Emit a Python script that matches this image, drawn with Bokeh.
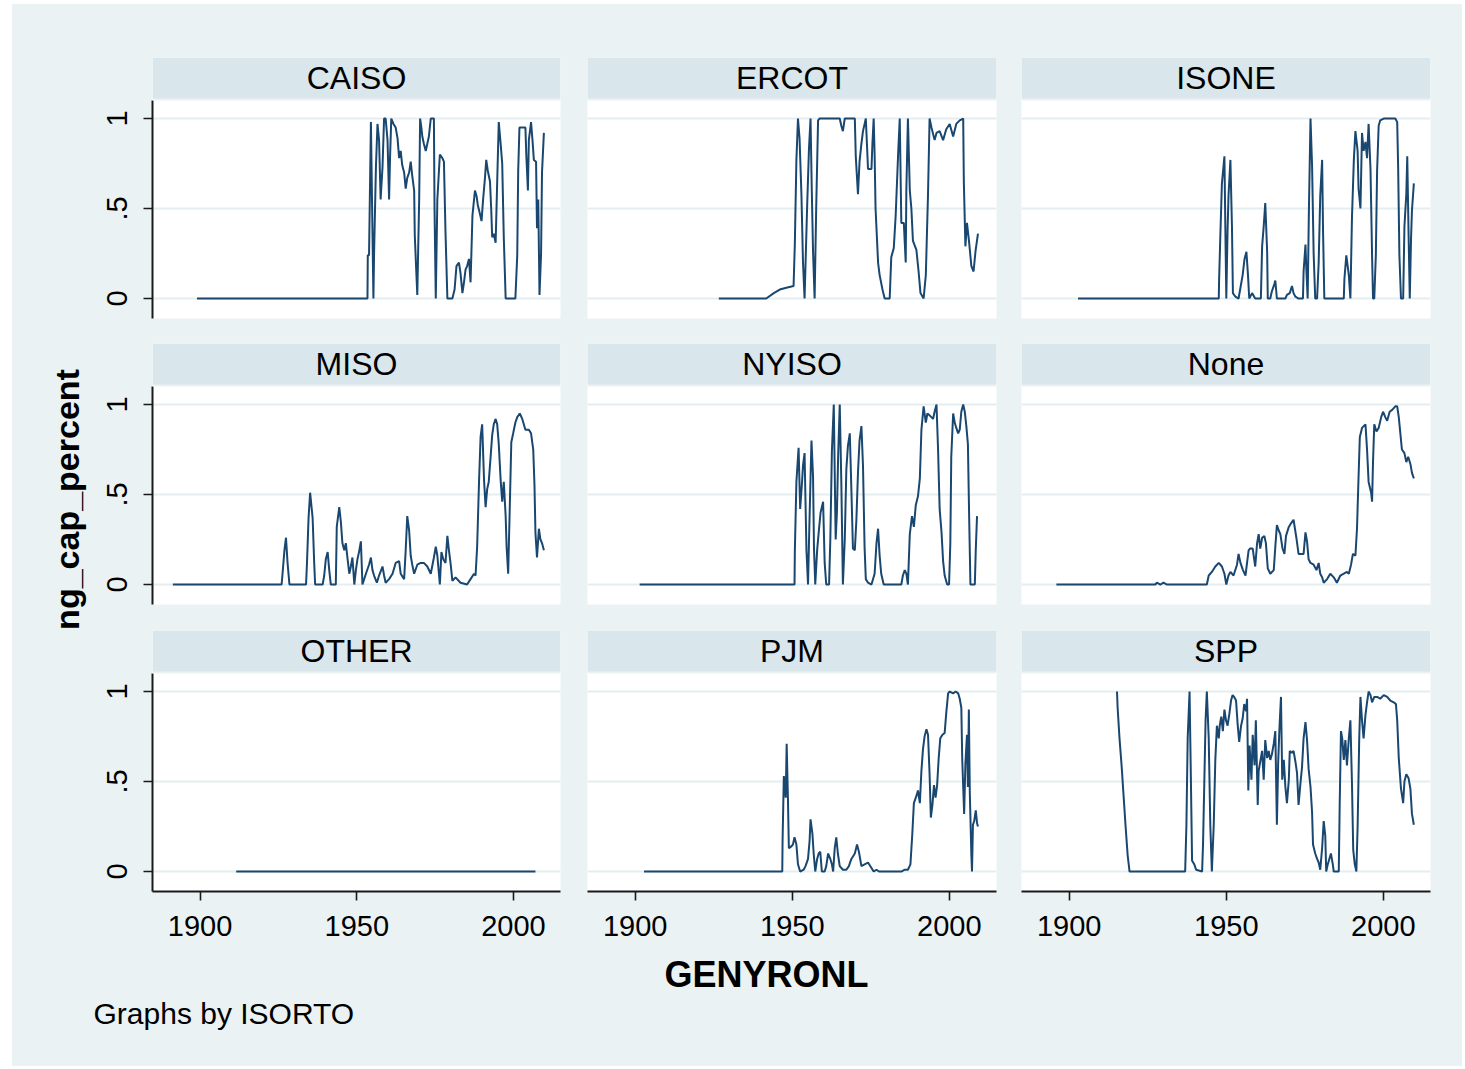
import math
from bokeh.plotting import figure
from bokeh.models import Range1d, FixedTicker, BoxAnnotation, Label, ColumnDataSource, Spacer
from bokeh.layouts import row, column
from bokeh.embed import file_html
from bokeh.resources import INLINE

# ---------------- data (GENYRONL, ng_cap_percent) ----------------
CAISO = [(1899.0, 0), (1953.4, 0), (1953.5, 0.24), (1953.9, 0.24), (1954.5, 0.98), (1954.7, 0.73), (1955.3, 0),
         (1955.5, 0.24), (1956.1, 0.73), (1956.6, 0.97), (1957.1, 0.88), (1957.6, 0.55), (1958.2, 0.73), (1958.7, 1.0),
         (1959.2, 1.0), (1959.8, 0.88), (1960.3, 0.55), (1960.6, 0.78), (1961.0, 1.0), (1961.7, 0.97), (1962.4, 0.95),
         (1963.0, 0.89), (1963.5, 0.78), (1964.0, 0.82), (1964.5, 0.74), (1965.1, 0.7), (1965.6, 0.61), (1966.1, 0.67),
         (1966.7, 0.7), (1967.2, 0.76), (1967.7, 0.68), (1968.3, 0.6), (1968.5, 0.35), (1969.0, 0.14), (1969.3, 0.02),
         (1969.9, 0.55), (1970.2, 1.0), (1970.6, 0.95), (1970.9, 0.9), (1971.4, 0.86), (1972.0, 0.82), (1972.5, 0.86),
         (1973.0, 0.9), (1973.6, 1.0), (1974.6, 1.0), (1974.8, 0.5), (1975.2, 0), (1975.7, 0.55), (1976.5, 0.8),
         (1977.3, 0.78), (1977.8, 0.76), (1978.3, 0.37), (1978.9, 0), (1980.5, 0), (1981.2, 0.05), (1981.8, 0.18),
         (1982.6, 0.2), (1983.1, 0.14), (1983.7, 0.03), (1984.2, 0.09), (1984.7, 0.16), (1985.2, 0.18), (1985.8, 0.22),
         (1986.3, 0.09), (1986.9, 0.46), (1987.7, 0.6), (1988.2, 0.57), (1988.6, 0.52), (1989.3, 0.47), (1989.8, 0.43),
         (1990.3, 0.55), (1990.9, 0.67), (1991.3, 0.77), (1991.8, 0.71), (1992.5, 0.65), (1992.9, 0.49), (1993.2, 0.34),
         (1993.7, 0.36), (1994.3, 0.31), (1994.8, 0.65), (1995.3, 0.98), (1995.9, 0.86), (1996.4, 0.75), (1996.9, 0.34),
         (1997.5, 0), (2000.6, 0), (2001.2, 0.24), (2001.5, 0.71), (2001.9, 0.95), (2003.8, 0.95), (2004.1, 0.79),
         (2004.6, 0.6), (2004.9, 0.88), (2005.6, 0.98), (2006.1, 0.87), (2006.5, 0.77), (2007.2, 0.76), (2007.5, 0.39),
         (2007.9, 0.55), (2008.3, 0.02), (2008.8, 0.25), (2009.1, 0.7), (2009.7, 0.92)]

ERCOT = [(1926.6, 0), (1941.7, 0), (1944.1, 0.03), (1946.0, 0.05), (1948.1, 0.06), (1950.4, 0.07), (1950.8, 0.3),
         (1951.3, 0.77), (1951.8, 1.0), (1952.3, 0.89), (1952.9, 0.58), (1953.4, 0.2), (1953.9, 0.0), (1954.7, 0.5),
         (1955.3, 0.83), (1955.8, 1.0), (1956.2, 0.6), (1956.6, 0.26), (1957.1, 0.0), (1957.6, 0.5), (1958.2, 0.99),
         (1958.7, 1.0), (1965.1, 1.0), (1965.6, 0.96), (1966.1, 0.93), (1966.7, 1.0), (1969.9, 1.0), (1970.2, 0.79),
         (1970.9, 0.58), (1971.4, 0.76), (1972.0, 0.86), (1972.5, 0.93), (1973.4, 1.0), (1973.8, 0.84), (1974.1, 0.72),
         (1975.2, 0.72), (1975.5, 0.86), (1975.9, 1.0), (1976.2, 0.8), (1976.5, 0.5), (1977.3, 0.2), (1977.8, 0.13),
         (1978.7, 0.05), (1979.4, 0.0), (1981.0, 0.0), (1981.5, 0.23), (1982.3, 0.28), (1982.9, 0.46), (1983.7, 0.81),
         (1984.2, 1.0), (1984.7, 0.42), (1985.5, 0.42), (1986.1, 0.2), (1986.3, 0.6), (1986.8, 1.0), (1987.4, 0.6),
         (1987.9, 0.5), (1988.4, 0.32), (1989.5, 0.27), (1990.2, 0.15), (1990.8, 0.03), (1991.8, 0.0), (1992.5, 0.13),
         (1993.2, 0.58), (1993.7, 1.0), (1994.3, 0.95), (1995.3, 0.88), (1995.9, 0.92), (1996.9, 0.93), (1998.0, 0.88),
         (1999.0, 0.94), (2000.1, 0.97), (2001.2, 0.9), (2002.2, 0.97), (2003.3, 0.99), (2004.4, 1.0), (2004.6, 0.65),
         (2005.1, 0.29), (2005.6, 0.42), (2006.3, 0.31), (2007.0, 0.18), (2007.7, 0.15), (2008.3, 0.26), (2009.1, 0.36)]

ISONE = [(1902.8, 0), (1947.6, 0), (1947.7, 0.1), (1948.1, 0.35), (1948.6, 0.64), (1949.4, 0.79), (1949.7, 0.38),
         (1950.0, 0.0), (1950.4, 0.38), (1950.7, 0.57), (1951.3, 0.77), (1951.8, 0.4), (1952.1, 0.03), (1952.9, 0.01),
         (1953.9, 0.0), (1954.5, 0.06), (1955.2, 0.13), (1955.8, 0.22), (1956.4, 0.26), (1956.9, 0.13), (1957.3, 0.0),
         (1958.2, 0.03), (1959.2, 0.0), (1961.0, 0.0), (1961.4, 0.29), (1961.9, 0.4), (1962.4, 0.53), (1963.0, 0.26),
         (1963.2, 0.0), (1964.0, 0.0), (1964.5, 0.04), (1965.3, 0.08), (1965.6, 0.1), (1966.1, 0.0), (1968.8, 0.0),
         (1969.3, 0.02), (1970.2, 0.03), (1970.9, 0.07), (1971.4, 0.03), (1972.0, 0.01), (1973.0, 0.0), (1974.4, 0.0),
         (1974.6, 0.15), (1975.2, 0.3), (1975.5, 0.15), (1975.9, 0.0), (1976.3, 0.5), (1976.8, 1.0), (1977.3, 0.74),
         (1977.8, 0.25), (1978.3, 0.0), (1978.9, 0.0), (1979.4, 0.2), (1979.9, 0.57), (1980.5, 0.77), (1980.8, 0.37),
         (1981.2, 0.0), (1987.4, 0.0), (1987.6, 0.11), (1988.2, 0.24), (1989.0, 0.13), (1989.5, 0.0), (1990.0, 0.45),
         (1990.6, 0.77), (1991.1, 0.93), (1991.8, 0.82), (1992.1, 0.61), (1992.7, 0.5), (1993.2, 0.92), (1993.7, 0.82),
         (1994.3, 0.87), (1994.8, 0.78), (1995.3, 0.97), (1995.9, 0.72), (1996.4, 0.24), (1996.7, 0.0), (1997.1, 0.0),
         (1997.6, 0.24), (1998.0, 0.71), (1998.5, 0.96), (1999.0, 0.99), (2000.1, 1.0), (2003.8, 1.0), (2004.4, 0.98),
         (2004.7, 0.73), (2005.1, 0.24), (2005.6, 0.0), (2006.3, 0.0), (2006.7, 0.4), (2007.3, 0.58), (2007.6, 0.79),
         (2008.0, 0.38), (2008.4, 0.0), (2008.8, 0.33), (2009.1, 0.49), (2009.7, 0.64)]

MISO = [(1891.3, 0), (1926.0, 0), (1926.3, 0.06), (1926.9, 0.19), (1927.4, 0.26), (1927.9, 0.12), (1928.5, 0.0),
        (1933.8, 0.0), (1934.1, 0.12), (1934.6, 0.37), (1935.1, 0.51), (1935.9, 0.37), (1936.4, 0.12), (1936.7, 0.0),
        (1939.1, 0.0), (1939.6, 0.05), (1940.1, 0.14), (1940.7, 0.18), (1941.2, 0.08), (1941.7, 0.0), (1943.3, 0.0),
        (1943.6, 0.32), (1944.4, 0.43), (1944.9, 0.35), (1945.4, 0.23), (1946.0, 0.19), (1946.5, 0.23), (1947.0, 0.15),
        (1947.6, 0.06), (1948.1, 0.1), (1948.6, 0.15), (1949.2, 0.0), (1949.7, 0.08), (1950.2, 0.14), (1950.7, 0.18),
        (1951.3, 0.24), (1951.8, 0.0), (1952.9, 0.06), (1953.9, 0.11), (1954.5, 0.15), (1955.0, 0.08), (1955.5, 0.05),
        (1956.4, 0.01), (1957.1, 0.05), (1958.2, 0.1), (1958.7, 0.05), (1959.2, 0.01), (1960.3, 0.03), (1961.4, 0.06),
        (1962.4, 0.12), (1963.5, 0.13), (1964.0, 0.06), (1965.1, 0.03), (1965.6, 0.19), (1966.1, 0.38), (1966.7, 0.3),
        (1967.2, 0.16), (1967.7, 0.11), (1968.3, 0.06), (1969.3, 0.11), (1970.4, 0.12), (1971.4, 0.12), (1972.5, 0.1),
        (1973.6, 0.06), (1974.6, 0.15), (1975.2, 0.21), (1975.7, 0.16), (1976.5, 0.0), (1977.0, 0.18), (1977.6, 0.14),
        (1978.3, 0.12), (1978.9, 0.27), (1979.4, 0.19), (1979.9, 0.12), (1980.5, 0.02), (1981.5, 0.04), (1983.1, 0.01),
        (1985.2, 0.0), (1986.3, 0.03), (1987.4, 0.06), (1987.9, 0.05), (1988.4, 0.21), (1989.0, 0.57), (1989.5, 0.82),
        (1990.0, 0.89), (1990.6, 0.58), (1991.1, 0.43), (1991.6, 0.53), (1992.1, 0.57), (1992.7, 0.71), (1993.2, 0.83),
        (1993.7, 0.89), (1994.3, 0.92), (1994.8, 0.89), (1995.3, 0.78), (1995.9, 0.58), (1996.4, 0.46), (1996.9, 0.57),
        (1997.5, 0.38), (1997.8, 0.21), (1998.3, 0.06), (1998.8, 0.42), (1999.3, 0.79), (1999.9, 0.84), (2000.6, 0.9),
        (2001.2, 0.93), (2002.0, 0.95), (2002.8, 0.92), (2003.8, 0.86), (2004.9, 0.86), (2005.6, 0.84), (2006.3, 0.75),
        (2006.7, 0.55), (2007.0, 0.29), (2007.5, 0.15), (2008.1, 0.31), (2008.6, 0.25), (2009.1, 0.23), (2009.7, 0.19)]

NYISO = [(1901.4, 0), (1950.7, 0), (1950.8, 0.18), (1951.3, 0.57), (1952.0, 0.76), (1952.5, 0.42), (1953.1, 0.57),
         (1953.4, 0.66), (1953.9, 0.73), (1954.5, 0.19), (1955.0, 0.0), (1955.5, 0.38), (1956.1, 0.8), (1956.6, 0.6),
         (1956.9, 0.2), (1957.3, 0.0), (1957.9, 0.19), (1958.4, 0.29), (1959.0, 0.4), (1959.8, 0.46), (1960.3, 0.12),
         (1960.8, 0.0), (1961.7, 0.0), (1962.1, 0.25), (1962.6, 0.74), (1963.2, 1.0), (1963.8, 0.25), (1964.2, 0.4),
         (1964.6, 0.72), (1965.1, 1.0), (1965.6, 0.57), (1966.1, 0.0), (1966.7, 0.25), (1967.2, 0.64), (1967.7, 0.77),
         (1968.3, 0.84), (1968.8, 0.53), (1969.3, 0.2), (1969.9, 0.19), (1970.4, 0.36), (1970.9, 0.62), (1971.4, 0.8),
         (1972.0, 0.88), (1972.5, 0.66), (1973.0, 0.21), (1973.4, 0.03), (1974.1, 0.01), (1975.2, 0.0), (1976.2, 0.06),
         (1976.8, 0.23), (1977.3, 0.31), (1977.8, 0.16), (1978.3, 0.06), (1979.1, 0.0), (1984.7, 0.0), (1985.2, 0.05),
         (1985.8, 0.08), (1986.3, 0.06), (1986.8, 0.0), (1987.4, 0.28), (1988.1, 0.38), (1988.7, 0.32), (1989.3, 0.44),
         (1990.0, 0.49), (1990.6, 0.59), (1991.1, 0.86), (1991.8, 0.99), (1992.5, 0.9), (1993.0, 0.95), (1993.7, 0.94),
         (1994.8, 0.92), (1995.3, 0.96), (1995.9, 1.0), (1996.4, 0.75), (1996.9, 0.42), (1997.5, 0.29), (1998.0, 0.13),
         (1998.5, 0.05), (1999.3, 0.0), (1999.9, 0.0), (2000.3, 0.23), (2000.6, 0.71), (2001.2, 0.95), (2001.7, 0.9),
         (2002.2, 0.87), (2002.8, 0.84), (2003.3, 0.86), (2003.8, 0.96), (2004.4, 1.0), (2004.9, 0.96), (2005.4, 0.88),
         (2005.9, 0.78), (2006.3, 0.37), (2006.7, 0.0), (2008.1, 0.0), (2008.4, 0.19), (2008.8, 0.38)]

NONE = [(1895.9, 0), (1927.4, 0), (1927.9, 0.01), (1929.0, 0.0), (1930.0, 0.01), (1931.1, 0.0), (1943.8, 0.0),
        (1944.4, 0.05), (1945.4, 0.07), (1946.5, 0.1), (1947.6, 0.12), (1948.6, 0.1), (1949.4, 0.06), (1950.0, 0.0),
        (1950.7, 0.05), (1951.3, 0.07), (1952.3, 0.05), (1953.4, 0.11), (1953.9, 0.17), (1954.5, 0.12), (1955.3, 0.08),
        (1956.1, 0.05), (1956.6, 0.12), (1957.1, 0.19), (1957.6, 0.2), (1958.4, 0.2), (1959.2, 0.1), (1959.8, 0.23),
        (1960.3, 0.28), (1960.8, 0.2), (1961.4, 0.26), (1962.1, 0.27), (1962.6, 0.23), (1963.2, 0.09), (1964.0, 0.06),
        (1965.1, 0.08), (1965.6, 0.21), (1966.1, 0.33), (1966.7, 0.3), (1967.2, 0.28), (1967.9, 0.2), (1968.5, 0.17),
        (1969.0, 0.27), (1969.9, 0.32), (1970.6, 0.34), (1971.4, 0.36), (1972.3, 0.26), (1973.0, 0.17), (1974.6, 0.17),
        (1975.2, 0.29), (1975.7, 0.24), (1976.2, 0.14), (1976.8, 0.12), (1977.8, 0.11), (1978.7, 0.08), (1979.4, 0.12),
        (1979.9, 0.06), (1980.5, 0.04), (1981.0, 0.01), (1982.1, 0.03), (1983.1, 0.06), (1984.2, 0.04), (1985.2, 0.01),
        (1986.3, 0.05), (1987.4, 0.06), (1988.4, 0.07), (1989.0, 0.06), (1989.7, 0.11), (1990.3, 0.17), (1991.1, 0.16),
        (1991.6, 0.31), (1992.1, 0.6), (1992.5, 0.82), (1993.2, 0.87), (1994.3, 0.89), (1994.8, 0.75), (1995.3, 0.57),
        (1996.1, 0.51), (1996.4, 0.46), (1996.7, 0.68), (1997.1, 0.89), (1997.8, 0.85), (1998.5, 0.87), (1999.3, 0.93),
        (1999.9, 0.96), (2000.6, 0.93), (2001.2, 0.91), (2002.0, 0.96), (2002.8, 0.97), (2003.8, 0.99), (2004.4, 0.99),
        (2004.9, 0.93), (2005.4, 0.84), (2005.9, 0.75), (2006.7, 0.73), (2007.3, 0.68), (2007.9, 0.71), (2008.6, 0.67),
        (2009.1, 0.62), (2009.7, 0.59)]

OTHER = [(1911.5, 0), (2007.0, 0)]

PJM = [(1902.8, 0), (1946.8, 0), (1946.9, 0.17), (1947.3, 0.53), (1947.9, 0.41), (1948.2, 0.71), (1948.6, 0.41),
       (1948.9, 0.13), (1949.7, 0.14), (1950.2, 0.15), (1950.7, 0.19), (1951.3, 0.15), (1951.8, 0.04), (1952.5, 0.0),
       (1953.6, 0.01), (1954.2, 0.03), (1955.0, 0.07), (1955.5, 0.17), (1955.8, 0.29), (1956.4, 0.21), (1956.8, 0.1),
       (1957.3, 0.0), (1957.9, 0.07), (1958.4, 0.1), (1958.9, 0.11), (1959.4, 0.0), (1960.3, 0.0), (1960.8, 0.03),
       (1961.4, 0.1), (1962.1, 0.07), (1962.6, 0.04), (1963.0, 0.0), (1963.5, 0.13), (1964.0, 0.19), (1964.5, 0.1),
       (1965.1, 0.03), (1966.1, 0.01), (1967.2, 0.01), (1968.0, 0.03), (1968.8, 0.07), (1969.9, 0.1), (1970.6, 0.15),
       (1971.2, 0.11), (1972.0, 0.03), (1973.0, 0.04), (1974.1, 0.05), (1975.2, 0.02), (1975.9, 0.0), (1976.8, 0.01),
       (1977.6, 0.0), (1984.7, 0.0), (1985.8, 0.01), (1986.8, 0.01), (1987.6, 0.04), (1988.2, 0.21), (1988.7, 0.38),
       (1989.5, 0.42), (1990.0, 0.45), (1990.6, 0.38), (1991.1, 0.56), (1991.6, 0.68), (1992.1, 0.75), (1992.7, 0.79),
       (1993.2, 0.76), (1993.7, 0.54), (1994.1, 0.3), (1994.6, 0.37), (1995.1, 0.48), (1995.6, 0.41), (1996.1, 0.48),
       (1996.6, 0.63), (1997.1, 0.74), (1997.8, 0.76), (1998.5, 0.77), (1999.0, 0.88), (1999.6, 0.99), (2000.1, 1.0),
       (2001.2, 0.99), (2002.0, 1.0), (2002.8, 0.99), (2003.3, 0.96), (2003.8, 0.91), (2004.1, 0.62), (2004.7, 0.32),
       (2005.1, 0.6), (2005.6, 0.76), (2005.9, 0.47), (2006.2, 0.9), (2006.5, 0.44), (2007.0, 0.09), (2007.2, 0.0),
       (2007.5, 0.26), (2007.9, 0.28), (2008.4, 0.34), (2008.8, 0.27), (2009.1, 0.25)]

SPP = [(1915.2, 1.0), (1915.4, 0.91), (1916.0, 0.74), (1916.7, 0.58), (1917.3, 0.42), (1917.9, 0.26), (1918.6, 0.09),
       (1919.2, 0.0), (1936.9, 0.0), (1937.3, 0.26), (1937.7, 0.74), (1938.3, 1.0), (1938.7, 0.54), (1939.1, 0.06),
       (1939.8, 0.04), (1940.4, 0.01), (1942.3, 0.0), (1942.6, 0.16), (1943.0, 0.5), (1943.4, 0.84), (1943.8, 1.0),
       (1944.4, 0.74), (1944.9, 0.26), (1945.4, 0.0), (1946.0, 0.26), (1946.5, 0.62), (1947.0, 0.81), (1947.6, 0.74),
       (1947.9, 0.81), (1948.4, 0.86), (1948.9, 0.78), (1949.4, 0.9), (1949.9, 0.84), (1950.4, 0.81), (1951.0, 0.88),
       (1951.5, 0.95), (1952.0, 0.98), (1952.5, 0.97), (1953.1, 0.95), (1953.6, 0.82), (1954.1, 0.72), (1954.7, 0.81),
       (1955.2, 0.85), (1955.7, 0.93), (1956.3, 0.89), (1956.6, 0.96), (1957.0, 0.45), (1957.4, 0.7), (1958.0, 0.51),
       (1958.4, 0.76), (1959.0, 0.59), (1959.4, 0.84), (1960.0, 0.37), (1960.3, 0.56), (1960.8, 0.61), (1961.4, 0.67),
       (1961.9, 0.51), (1962.4, 0.73), (1963.0, 0.63), (1963.5, 0.67), (1964.0, 0.62), (1964.5, 0.65), (1965.1, 0.71),
       (1965.6, 0.78), (1966.1, 0.26), (1966.5, 0.6), (1966.9, 0.79), (1967.4, 0.97), (1967.8, 0.51), (1968.3, 0.62),
       (1968.8, 0.47), (1969.3, 0.38), (1969.9, 0.51), (1970.2, 0.67), (1970.9, 0.66), (1971.4, 0.67), (1972.0, 0.61),
       (1972.5, 0.55), (1973.0, 0.37), (1973.6, 0.49), (1974.1, 0.58), (1974.6, 0.74), (1975.2, 0.83), (1975.7, 0.73),
       (1976.2, 0.57), (1976.8, 0.47), (1977.3, 0.33), (1977.6, 0.15), (1978.3, 0.1), (1978.9, 0.07), (1979.4, 0.05),
       (1979.9, 0.01), (1980.5, 0.13), (1981.0, 0.28), (1981.5, 0.2), (1981.8, 0.0), (1982.3, 0.04), (1982.8, 0.07),
       (1983.3, 0.1), (1983.9, 0.04), (1984.2, 0.0), (1985.8, 0.0), (1986.1, 0.38), (1986.5, 0.78), (1986.9, 0.74),
       (1987.4, 0.62), (1987.9, 0.73), (1988.4, 0.59), (1989.0, 0.74), (1989.5, 0.84), (1990.0, 0.49), (1990.4, 0.12),
       (1990.9, 0.04), (1991.4, 0.0), (1991.8, 0.25), (1992.3, 0.73), (1992.7, 0.97), (1993.2, 0.84), (1993.7, 0.74),
       (1994.3, 0.87), (1994.8, 0.94), (1995.3, 1.0), (1995.9, 0.98), (1996.4, 0.94), (1997.1, 0.97), (1998.0, 0.97),
       (1999.0, 0.96), (2000.1, 0.98), (2001.2, 0.97), (2002.2, 0.95), (2003.3, 0.94), (2004.0, 0.93), (2004.4, 0.84),
       (2004.9, 0.63), (2005.6, 0.46), (2006.3, 0.38), (2006.7, 0.5), (2007.3, 0.54), (2008.0, 0.52), (2008.6, 0.46),
       (2009.1, 0.32), (2009.7, 0.26)]

PANEL_NAMES = ["CAISO", "ERCOT", "ISONE", "MISO", "NYISO", "None", "OTHER", "PJM", "SPP"]
PANEL_DATA = [CAISO, ERCOT, ISONE, MISO, NYISO, NONE, OTHER, PJM, SPP]
X_TICKS = [1900, 1950, 2000]
Y_TICKS = [0, 0.5, 1]
Y_TICK_LABELS = {0: "0", 0.5: ".5", 1: "1"}
X_TITLE = "GENYRONL"
Y_TITLE = "ng_cap_percent"
NOTE = "Graphs by ISORTO"

# ---------------- styling ----------------
BG = "#EAF2F3"
STRIP = "#D9E6EB"
LINE = "#1A476F"
GRIDC = "#E4EDEF"
FONT = "Liberation Sans"
TXT = "#000000"

X0, X1 = 1884.8, 2015.0
Y0, PLOT_TOP, STRIP_BOTTOM, Y1 = -0.111, 1.1, 1.111, 1.339

xr = Range1d(X0, X1)
yr = Range1d(Y0, Y1)

LEFT_W = 78
col_frame_w = [408, 409, 409]
col_border = [(62, 14), (13, 12), (13, 32)]
row_border = [(53, 13), (12, 14), (12, 61)]
FRAME_H = 261
FOOT_H = 114


def make_panel(idx):
    r, c = divmod(idx, 3)
    name = PANEL_NAMES[idx]
    yrs, vals = zip(*PANEL_DATA[idx])
    p = figure(frame_width=col_frame_w[c], frame_height=FRAME_H,
               x_range=xr, y_range=yr, title=None,
               output_backend="svg", toolbar_location=None,
               x_axis_location="below" if r == 2 else None,
               y_axis_location="left" if c == 0 else None,
               min_border_left=col_border[c][0], min_border_right=col_border[c][1],
               min_border_top=row_border[r][0], min_border_bottom=row_border[r][1])
    p.background_fill_color = "white"
    p.border_fill_color = BG
    p.outline_line_color = None
    p.xgrid.visible = False
    p.ygrid.ticker = FixedTicker(ticks=Y_TICKS)
    p.ygrid.grid_line_color = GRIDC
    p.ygrid.grid_line_width = 2

    if c == 0:
        ax = p.yaxis[0]
        ax.ticker = FixedTicker(ticks=Y_TICKS)
        ax.major_label_overrides = Y_TICK_LABELS
        ax.bounds = (Y0, PLOT_TOP)
        ax.major_label_orientation = "parallel"
        ax.major_label_standoff = 16
    if r == 2:
        ax = p.xaxis[0]
        ax.ticker = FixedTicker(ticks=X_TICKS)
        ax.major_label_standoff = 15
    for ax in list(p.xaxis) + list(p.yaxis):
        ax.minor_tick_line_color = None
        ax.major_tick_in = 0
        ax.major_tick_out = 9
        ax.major_tick_line_width = 1.6
        ax.major_tick_line_color = "#1a1a1a"
        ax.axis_line_width = 2
        ax.axis_line_color = "#1a1a1a"
        ax.major_label_text_font = FONT
        ax.major_label_text_font_size = "29px"
        ax.major_label_text_color = TXT

    src = ColumnDataSource(dict(year=list(yrs), val=list(vals)))
    p.line(x="year", y="val", source=src, line_color=LINE, line_width=2)

    # strip header (by-group title)
    p.add_layout(BoxAnnotation(bottom=PLOT_TOP, fill_color=BG, fill_alpha=1, line_color=None))
    p.add_layout(BoxAnnotation(bottom=STRIP_BOTTOM, fill_color=STRIP, fill_alpha=1, line_color=None))
    p.add_layout(Label(x=(X0 + X1) / 2, y=(STRIP_BOTTOM + Y1) / 2, text=name,
                       text_align="center", text_baseline="middle",
                       text_font=FONT, text_font_size="32px", text_color=TXT))
    return p


panels = [make_panel(i) for i in range(9)]
grid_h = sum(b[0] + b[1] + FRAME_H for b in row_border)
total_w = LEFT_W + sum(col_frame_w) + sum(a + b for a, b in col_border)

# left strip with y title
left = figure(frame_width=LEFT_W, frame_height=grid_h, x_range=Range1d(0, LEFT_W), y_range=Range1d(0, grid_h),
              title=None, output_backend="svg", toolbar_location=None,
              x_axis_location=None, y_axis_location=None, min_border=0)
left.background_fill_color = BG
left.border_fill_color = BG
left.outline_line_color = None
left.grid.visible = False
left.add_layout(Label(x=54, y=grid_h - 495, text=Y_TITLE, angle=math.pi / 2,
                      text_align="center", text_baseline="middle",
                      text_font=FONT, text_font_size="34px", text_font_style="bold", text_color=TXT))

# footer with x title and note
foot = figure(frame_width=total_w, frame_height=FOOT_H, x_range=Range1d(0, total_w), y_range=Range1d(0, FOOT_H),
              title=None, output_backend="svg", toolbar_location=None,
              x_axis_location=None, y_axis_location=None, min_border=0)
foot.background_fill_color = BG
foot.border_fill_color = BG
foot.outline_line_color = None
foot.grid.visible = False
foot.add_layout(Label(x=754, y=FOOT_H - 22, text=X_TITLE, text_align="center", text_baseline="middle",
                      text_font=FONT, text_font_size="36px", text_font_style="bold", text_color=TXT))
foot.add_layout(Label(x=81, y=FOOT_H - 61, text=NOTE, text_align="left", text_baseline="middle",
                      text_font=FONT, text_font_size="30px", text_color=TXT))

bgstyle = {"background-color": BG}
grid = column(row(*panels[0:3], styles=bgstyle), row(*panels[3:6], styles=bgstyle),
              row(*panels[6:9], styles=bgstyle), styles=bgstyle)
content = column(row(left, grid, styles=bgstyle), foot, styles=bgstyle)
layout = column(Spacer(width=total_w + 12, height=4),
                row(Spacer(width=12, height=grid_h + FOOT_H), content))

open("out.html", "w").write(file_html(layout, INLINE))
